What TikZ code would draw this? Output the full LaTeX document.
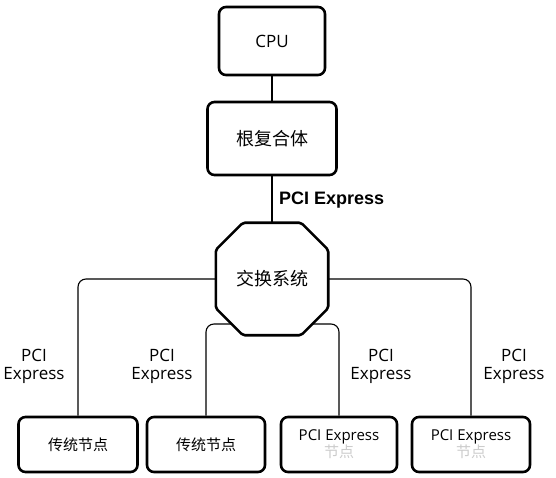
\documentclass[tikz,border=0pt]{standalone}
\usepackage{fontspec}
\setmainfont{Open Sans}
\newfontfamily\cjk{Noto Sans CJK SC}
\newfontfamily\arialf{Liberation Sans}
\usetikzlibrary{calc,backgrounds}
\begin{document}
\begin{tikzpicture}[x=1pt,y=-1pt,
  box/.style={draw,line width=2.6pt,rounded corners=7pt,inner sep=0pt},
  link/.style={line width=1.1pt},
  lab/.style={align=center,font=\fontsize{17}{18}\selectfont,inner sep=0pt},
  cjkf/.style={font=\cjk\fontsize{18}{20}\selectfont},
  small/.style={font=\fontsize{15}{17}\selectfont,align=center}]
\useasboundingbox (0,0) rectangle (556,478);
% nodes
\node[box,minimum width=106pt,minimum height=68pt,font=\fontsize{17}{18}\selectfont] (cpu) at (272,41) {CPU};
\node[box,minimum width=129pt,minimum height=73pt,cjkf] (rc) at (272,138.5) {根复合体};
\node[minimum width=112pt,minimum height=112pt,inner sep=0pt,cjkf] (sw) at (272,279) {交换系统};
\node[anchor=west,inner sep=0pt,font=\arialf\bfseries\fontsize{18}{18}\selectfont] (pe) at (279,200) {PCI Express};
\node[lab] (l1) at (34,366) {PCI\\Express};
\node[lab] (l2) at (162,366) {PCI\\Express};
\node[lab] (l3) at (381,366) {PCI\\Express};
\node[lab] (l4) at (514,366) {PCI\\Express};
\node[box,minimum width=119pt,minimum height=55pt,font=\cjk\fontsize{15}{16}\selectfont] (b1) at (78,444.5) {传统节点};
\node[box,minimum width=118pt,minimum height=55pt,font=\cjk\fontsize{15}{16}\selectfont] (b2) at (206,444.5) {传统节点};
\node[box,minimum width=116pt,minimum height=55pt,small] (b3) at (339,444.5) {PCI Express\\{\cjk\color{black!20}节点}};
\node[box,minimum width=118pt,minimum height=55pt,small] (b4) at (471,444.5) {PCI Express\\{\cjk\color{black!20}节点}};
\coordinate (inner) at (272,324);
\begin{pgfonlayer}{background}
\fill[white] (0,0) rectangle (556,478);
\draw[link] (cpu.south) -- (rc.north);
\draw[link] (rc.south) -- (sw.north);
\draw[link,rounded corners=8pt] (sw.west) -| (b1.north);
\draw[link,rounded corners=8pt] (sw.east) -| (b4.north);
\draw[link,rounded corners=8pt] (b2.north) |- (inner) -| (b3.north);
\draw[line width=2.6pt,fill=white,rounded corners=2pt]
  ($(sw.north west)+(27,0)$) -- ($(sw.north east)+(-27,0)$) --
  ($(sw.north east)+(0,27)$) -- ($(sw.south east)+(0,-27)$) --
  ($(sw.south east)+(-27,0)$) -- ($(sw.south west)+(27,0)$) --
  ($(sw.south west)+(0,-27)$) -- ($(sw.north west)+(0,27)$) -- cycle;
\end{pgfonlayer}
\end{tikzpicture}
\end{document}
